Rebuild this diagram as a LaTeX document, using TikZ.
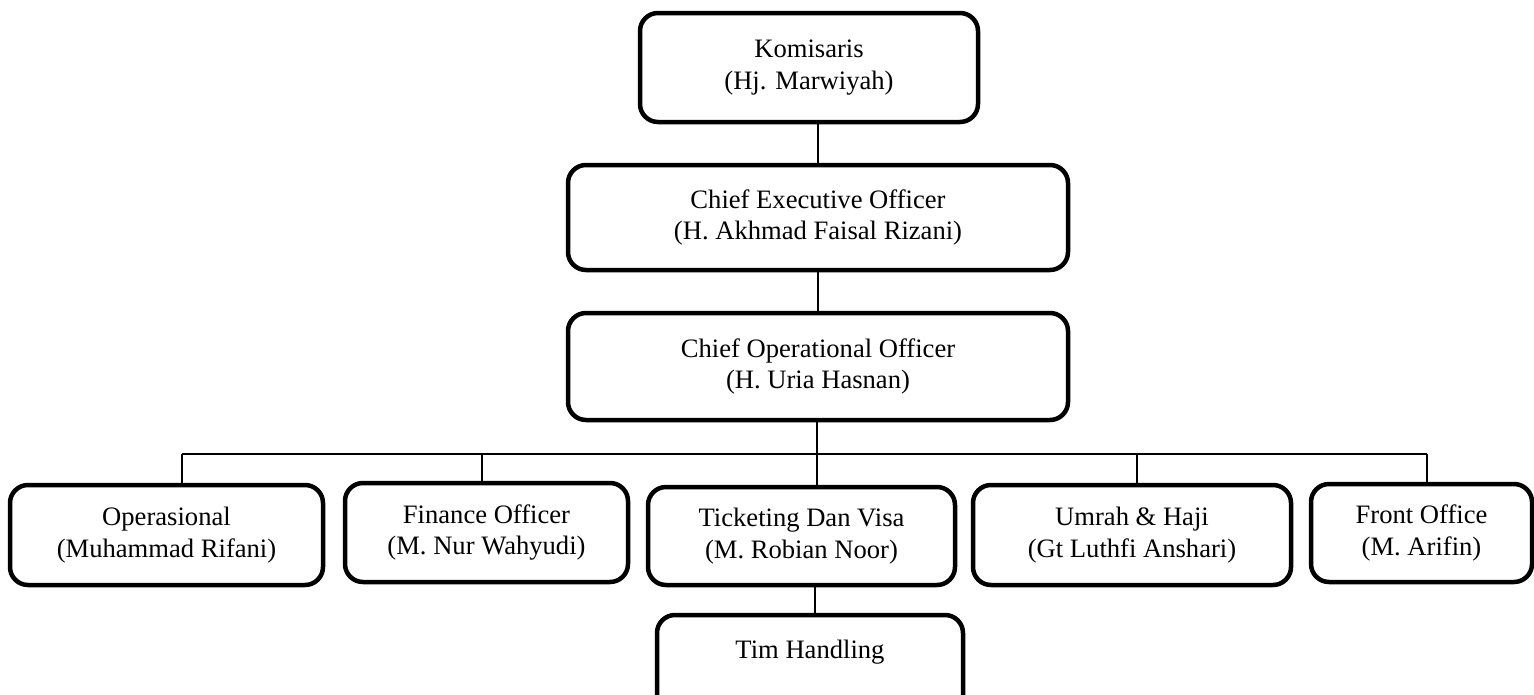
\documentclass[tikz,border=0pt]{standalone}
\usepackage{fontspec}
\setmainfont{Liberation Serif}
\begin{document}
\begin{tikzpicture}[x=1pt,y={(0pt,-1pt)},
  orgbox/.style={draw=black, line width=4.5pt, rounded corners=18pt, inner sep=0pt,
    align=center, font=\fontsize{26.6}{31.5}\selectfont},
  conn/.style={draw=black, line width=2pt}]
\useasboundingbox (0,0) rectangle (1534,694);
\node[orgbox, minimum width=338pt, minimum height=109pt] (kom) at (809,67.5) {Komisaris\\(Hj. Marwiyah)};
\node[orgbox, minimum width=500pt, minimum height=105pt] (ceo) at (818,217.5) {Chief Executive Officer\\(H. Akhmad Faisal Rizani)};
\node[orgbox, minimum width=500pt, minimum height=107pt] (coo) at (818,366.5) {Chief Operational Officer\\(H. Uria Hasnan)};
\node[orgbox, minimum width=313pt, minimum height=100pt] (ops) at (166.5,535) {Operasional\\(Muhammad Rifani)};
\node[orgbox, minimum width=283pt, minimum height=99pt] (fin) at (486.5,532.5) {Finance Officer\\(M. Nur Wahyudi)};
\node[orgbox, minimum width=307pt, minimum height=98pt] (tic) at (801.5,536) {Ticketing Dan Visa\\(M. Robian Noor)};
\node[orgbox, minimum width=318pt, minimum height=100pt] (umr) at (1132,535) {Umrah \& Haji\\(Gt Luthfi Anshari)};
\node[orgbox, minimum width=221pt, minimum height=98pt] (fro) at (1421.5,533) {Front Office\\(M. Arifin)};
\node[orgbox, minimum width=306pt, minimum height=100pt] (tim) at (810,665) {Tim Handling\\\mbox{}};
\coordinate (d1) at (182,454);
\coordinate (d2) at (482,454);
\coordinate (d3) at (817,454);
\coordinate (d4) at (1137,454);
\coordinate (d5) at (1427,454);
\coordinate (tj) at (815,0);
\draw[conn] (kom.south -| ceo.north) -- (ceo.north);
\draw[conn] (ceo.south) -- (coo.north);
\draw[conn] (coo.south -| d3) -- (d3);
\draw[conn] (d1) -- (d5);
\draw[conn] (d1) -- (d1 |- ops.north);
\draw[conn] (d2) -- (d2 |- fin.north);
\draw[conn] (d3) -- (d3 |- tic.north);
\draw[conn] (d4) -- (d4 |- umr.north);
\draw[conn] (d5) -- (d5 |- fro.north);
\draw[conn] (tic.south -| tj) -- (tim.north -| tj);
\end{tikzpicture}
\end{document}
